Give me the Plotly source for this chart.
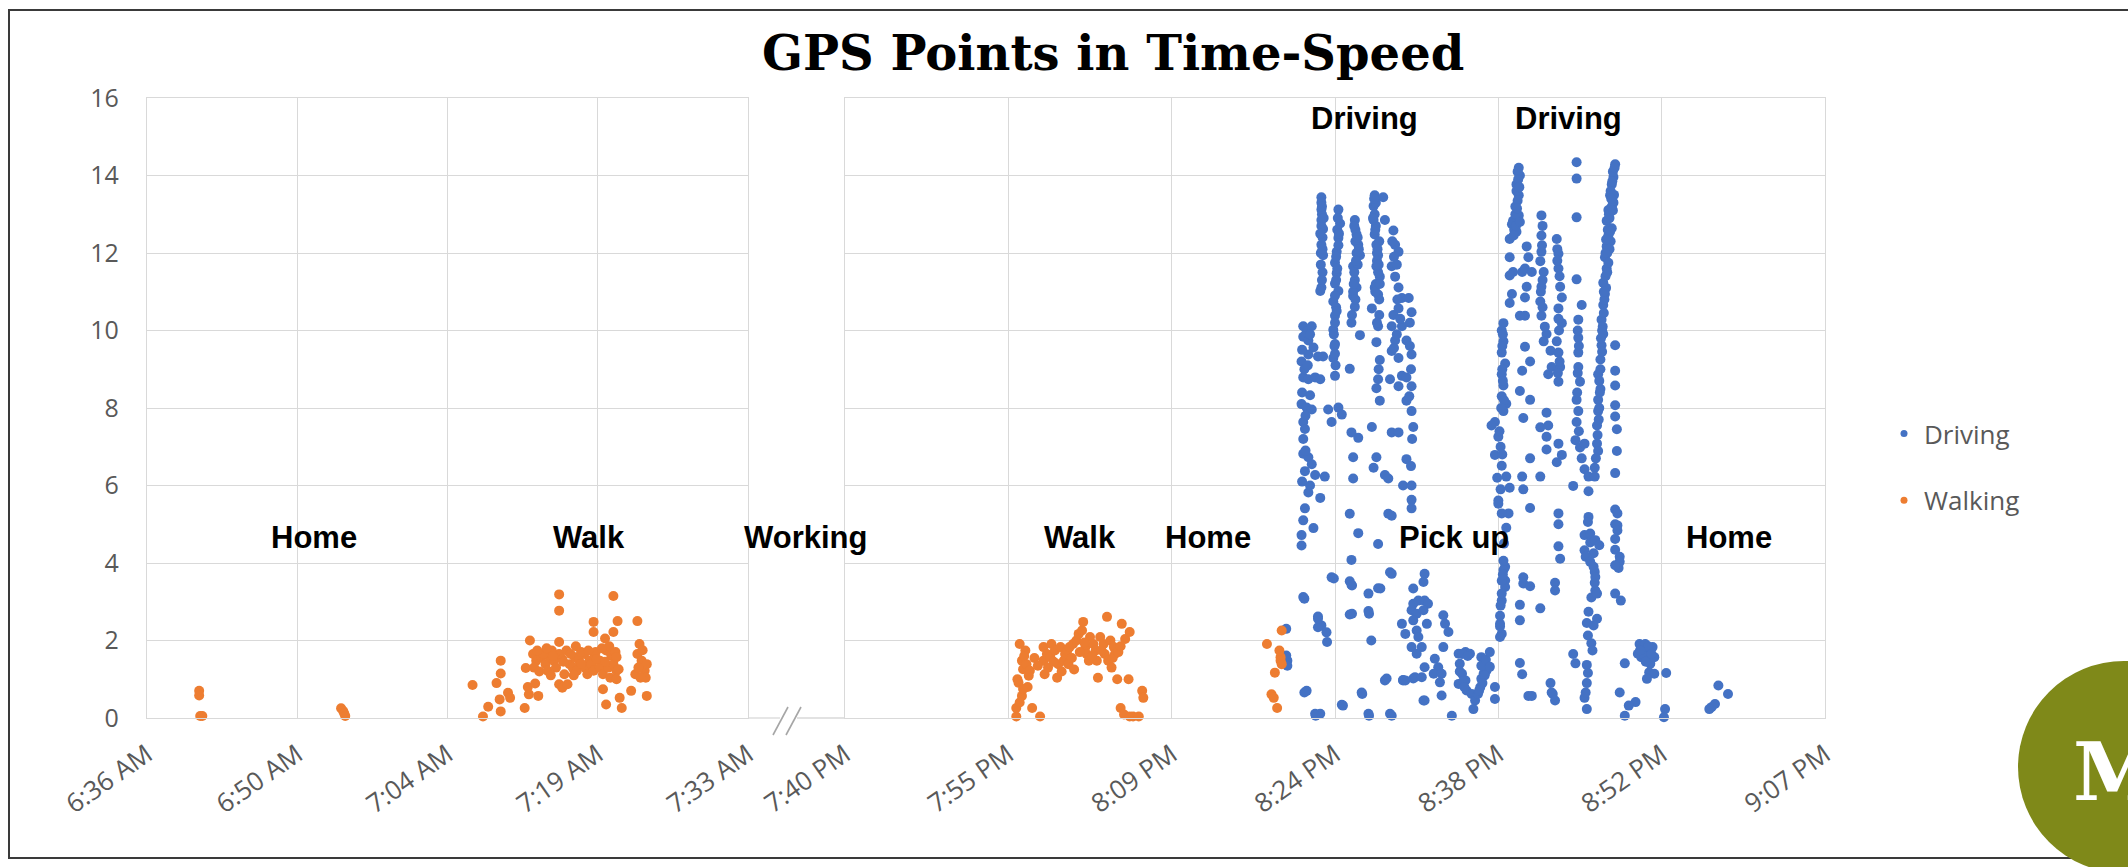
import plotly.graph_objects as go

W, H = 2128, 867

# ---------------- data: (minutes after midnight, speed) ----------------
walk_home_am = [(401.0, 0.70), (401.0, 0.58), (401.1, 0.05), (401.3, 0.05),
                (414.6, 0.25), (414.8, 0.18), (414.9, 0.12), (415.0, 0.05)]

walk_to_work = [
    (427.2, 0.85), (428.2, 0.04), (428.7, 0.29), (429.5, 0.90), (429.9, 1.48), (429.9, 1.15), (429.8, 0.48),
    (429.9, 0.17), (430.6, 0.65), (430.8, 0.52), (432.2, 0.26), (432.3, 1.29), (432.7, 2.00), (432.5, 0.80),
    (432.6, 0.61), (433.2, 0.89), (433.5, 0.57), (433.0, 1.65), (433.3, 1.48), (433.8, 1.57), (434.2, 1.39),
    (434.6, 1.57), (435.0, 1.48), (435.5, 1.65), (435.8, 1.52), (436.2, 1.74), (436.5, 1.39), (437.0, 1.57),
    (437.4, 1.48), (437.9, 1.65), (438.4, 1.48), (438.9, 1.61), (439.4, 1.48), (440.0, 1.74), (440.5, 1.61),
    (440.9, 1.70), (433.1, 1.30), (433.6, 1.20), (434.0, 1.65), (434.4, 1.22), (434.8, 1.74), (435.2, 1.30),
    (435.5, 1.96), (435.5, 0.87), (435.8, 0.78), (436.3, 0.87), (436.0, 1.13), (436.8, 1.30), (437.2, 1.22),
    (437.6, 1.70), (438.0, 1.30), (438.2, 1.13), (438.6, 1.39), (438.8, 1.22), (439.0, 1.70), (439.4, 1.30),
    (439.7, 1.13), (440.2, 1.30), (440.4, 1.04), (440.7, 1.39), (441.0, 1.22), (441.0, 1.57), (433.4, 1.74),
    (434.9, 1.60), (436.6, 1.65), (437.6, 1.40), (438.3, 1.74), (439.1, 1.52), (439.9, 1.45), (440.3, 1.85),
    (434.3, 1.80), (435.9, 1.45), (437.1, 1.85), (439.6, 1.80), (436.9, 1.10), (434.7, 1.10), (435.5, 3.19),
    (435.5, 2.77), (438.8, 2.48), (438.8, 2.22), (440.7, 3.15), (441.1, 2.50), (440.7, 2.22), (439.9, 2.05),
    (439.7, 0.74), (440.0, 0.35), (441.2, 1.26), (441.0, 1.00), (441.3, 0.52), (441.5, 0.26), (442.4, 0.70),
    (443.0, 2.50), (443.2, 1.91), (443.0, 1.65), (443.4, 1.48), (442.8, 1.13), (443.7, 1.22), (443.8, 1.04),
    (443.3, 1.04), (443.9, 1.39), (443.9, 0.57), (443.5, 1.75), (443.1, 1.30),
]

walk_from_work = [
    (1195.9, 0.04), (1195.9, 0.26), (1196.0, 1.00), (1196.1, 0.91), (1196.2, 1.91), (1196.4, 1.48),
    (1196.4, 0.57), (1196.5, 1.26), (1196.7, 1.74), (1196.8, 1.39), (1197.0, 1.09), (1197.1, 1.22),
    (1197.3, 0.26), (1198.0, 0.04), (1198.3, 1.83), (1198.3, 1.48), (1198.4, 1.13), (1198.6, 1.65),
    (1198.9, 1.57), (1199.0, 1.91), (1199.3, 1.74), (1199.5, 1.04), (1199.6, 1.39), (1199.8, 1.83),
    (1200.1, 1.48), (1200.2, 1.65), (1200.4, 1.74), (1200.5, 1.39), (1200.6, 1.83), (1200.9, 1.91),
    (1201.2, 2.00), (1201.4, 2.17), (1201.7, 2.26), (1201.8, 2.48), (1202.0, 1.83), (1202.1, 1.65),
    (1202.3, 1.48), (1202.4, 2.09), (1202.7, 1.91), (1202.9, 1.74), (1203.0, 1.48), (1203.1, 1.04),
    (1203.3, 2.09), (1203.6, 1.91), (1203.7, 1.65), (1203.9, 2.61), (1204.0, 1.48), (1204.2, 2.00),
    (1204.3, 1.30), (1204.5, 1.83), (1204.6, 1.65), (1204.8, 1.00), (1205.1, 0.26), (1205.2, 2.43),
    (1205.4, 0.09), (1205.5, 2.04), (1205.8, 1.00), (1205.9, 2.22), (1205.9, 0.04), (1206.2, 0.04),
    (1206.7, 0.04), (1207.0, 0.70), (1207.1, 0.52), (1197.5, 1.55), (1197.8, 1.35), (1198.7, 1.30),
    (1199.2, 1.45), (1200.8, 1.55), (1201.5, 1.70), (1201.9, 1.95), (1202.6, 1.60), (1203.4, 1.75),
    (1204.4, 1.55), (1204.9, 1.70), (1205.1, 1.85), (1199.9, 1.20), (1201.0, 1.25), (1196.6, 1.60),
    (1196.9, 0.80), (1196.2, 0.40), (1196.5, 0.75),
]

walk_to_car = [(1218.0, 1.91), (1219.3, 2.26), (1219.2, 1.57), (1219.2, 1.48), (1219.1, 1.74),
               (1218.7, 1.17), (1218.4, 0.61), (1218.6, 0.52), (1218.9, 0.26), (1219.3, 1.39)]

drive_leg1 = [
    (1219.7, 2.30), (1219.8, 1.48), (1219.8, 1.35), (1219.7, 1.61),
    (1221.2, 10.11), (1221.5, 9.97), (1221.95, 10.11), (1221.2, 9.84), (1221.65, 9.74), (1222.1, 9.56),
    (1221.05, 9.20), (1221.65, 9.38), (1222.5, 9.33), (1222.95, 9.33), (1221.2, 8.79), (1221.65, 8.74),
    (1222.25, 8.79), (1222.7, 8.74), (1221.8, 8.33), (1221.05, 8.10), (1221.5, 8.01), (1221.95, 7.96),
    (1221.2, 7.64), (1221.35, 7.46), (1221.2, 6.82), (1221.65, 6.73), (1221.95, 6.55), (1221.35, 6.37),
    (1222.25, 6.27), (1221.8, 6.00), (1223.1, 6.23), (1222.7, 5.68), (1221.65, 5.82), (1221.35, 5.41),
    (1222.1, 4.90), (1221.05, 4.72), (1221.05, 4.45), (1221.2, 3.12), (1222.5, 2.62), (1222.8, 2.39),
    (1223.25, 2.21), (1221.5, 0.70), (1222.25, 0.11), (1222.7, 0.11), (1223.7, 3.63), (1225.3, 3.53),
    (1224.6, 0.34), (1221.3, 3.08), (1222.5, 2.34), (1222.5, 2.56), (1223.3, 1.96), (1221.3, 0.66),
    (1222.3, 0.06), (1224.7, 0.32), (1226.4, 0.62), (1227.0, 0.06), (1229.0, 0.06), (1228.4, 0.97),
    (1227.2, 2.00), (1225.5, 2.69), (1227.0, 2.69), (1223.9, 3.60), (1225.5, 3.42), (1228.0, 3.34),
    (1229.0, 3.72), (1221.1, 9.50), (1221.3, 9.00), (1221.1, 8.40), (1221.4, 7.80), (1221.2, 7.20),
    (1221.4, 6.90), (1221.1, 6.10), (1221.2, 5.10), (1221.6, 9.10), (1221.8, 9.90),
    (1222.8, 13.44), (1222.8, 13.12), (1222.8, 12.85), (1222.95, 12.62), (1222.8, 12.21), (1222.95, 11.94),
    (1222.8, 11.11), (1222.7, 11.02), (1222.8, 13.30), (1222.9, 12.40), (1222.75, 12.00), (1222.9, 11.50),
    (1222.85, 13.00), (1222.85, 13.20), (1222.8, 12.70), (1222.9, 12.10), (1222.75, 11.70), (1222.85, 11.30),
    (1223.0, 12.90), (1222.7, 12.50),
    (1224.3, 13.12), (1224.45, 12.76), (1224.3, 12.39), (1224.15, 12.03), (1224.0, 11.75), (1224.15, 11.48),
    (1224.0, 11.21), (1224.3, 11.02), (1223.85, 10.75), (1224.0, 10.38), (1223.85, 10.02), (1224.0, 9.65),
    (1223.85, 9.29), (1224.0, 8.83), (1223.4, 7.96), (1224.3, 8.01), (1224.6, 7.83), (1223.7, 7.64),
    (1224.2, 12.60), (1224.1, 11.90), (1224.3, 12.20), (1224.0, 10.90), (1224.1, 10.60), (1223.9, 9.90),
    (1224.0, 9.40), (1224.25, 12.90), (1224.35, 12.50), (1224.2, 11.60), (1224.1, 11.30), (1224.0, 10.20),
    (1223.95, 9.60), (1224.05, 9.10), (1224.15, 10.50),
    (1225.75, 12.85), (1225.9, 12.48), (1226.05, 12.21), (1226.2, 11.94), (1225.6, 11.66), (1225.75, 11.30),
    (1225.9, 11.11), (1225.6, 10.89), (1225.75, 10.61), (1225.45, 10.20), (1226.2, 9.88), (1225.3, 9.01),
    (1225.45, 7.37), (1226.05, 7.23), (1225.6, 6.73), (1225.6, 6.18), (1225.3, 5.27), (1226.05, 4.77),
    (1225.45, 4.08), (1225.45, 3.44), (1225.3, 2.67), (1226.95, 2.76), (1226.35, 0.66), (1226.95, 0.11),
    (1225.8, 12.60), (1225.9, 12.00), (1226.0, 11.70), (1225.7, 11.50), (1225.8, 12.30), (1225.6, 11.00),
    (1225.7, 12.70), (1226.1, 12.10), (1225.85, 11.80), (1225.65, 11.20), (1225.8, 10.80), (1226.0, 12.40),
    (1225.5, 10.40),
    (1227.5, 13.49), (1228.25, 13.44), (1227.4, 13.21), (1227.4, 12.85), (1227.5, 12.48), (1227.65, 12.21),
    (1227.8, 11.94), (1227.65, 11.66), (1227.95, 11.39), (1227.5, 11.11), (1227.8, 10.93), (1227.25, 10.57),
    (1227.8, 10.11), (1227.95, 9.24), (1227.8, 8.74), (1227.65, 8.51), (1227.95, 8.19), (1227.25, 7.51),
    (1227.65, 6.73), (1228.4, 6.27), (1228.7, 6.18), (1227.4, 6.46), (1228.7, 5.27), (1227.8, 4.49),
    (1227.5, 13.00), (1227.6, 12.70), (1227.7, 12.00), (1227.8, 11.50), (1227.6, 11.20), (1227.9, 12.30),
    (1227.6, 13.30), (1227.7, 11.80), (1227.9, 10.80), (1227.45, 13.40), (1227.55, 12.60), (1227.75, 12.10),
    (1227.85, 11.70), (1227.55, 11.00), (1227.9, 10.40), (1227.7, 10.20), (1227.35, 12.90), (1227.95, 11.20),
    (1227.65, 9.70), (1227.85, 9.00),
    (1228.4, 12.85), (1229.15, 12.58), (1229.3, 12.21), (1229.6, 12.03), (1229.0, 11.66), (1229.3, 11.39),
    (1229.6, 11.11), (1229.9, 10.84), (1230.5, 10.84), (1229.6, 10.57), (1230.75, 10.47), (1229.0, 10.11),
    (1229.9, 10.11), (1229.3, 9.74), (1230.3, 9.74), (1229.0, 9.47), (1229.6, 9.29), (1230.75, 9.38),
    (1228.85, 8.74), (1229.9, 8.83), (1230.3, 8.79), (1229.6, 8.56), (1230.75, 8.56), (1230.3, 8.19),
    (1230.75, 7.92), (1230.9, 7.51), (1229.0, 7.37), (1229.6, 7.37), (1230.3, 6.68), (1230.0, 6.00),
    (1230.75, 6.00), (1230.75, 5.63), (1230.75, 5.41), (1229.0, 5.22), (1228.85, 3.76), (1227.8, 3.35),
    (1226.95, 3.21), (1228.55, 1.02), (1230.0, 0.98), (1230.9, 1.02), (1228.85, 0.11),
    (1229.05, 12.30), (1229.2, 11.90), (1229.45, 11.70), (1229.5, 10.80), (1229.15, 10.40), (1229.75, 10.30),
    (1229.45, 9.90), (1229.2, 9.55), (1230.6, 10.20), (1230.7, 9.00), (1230.55, 8.30), (1230.8, 7.20),
    (1230.7, 6.50), (1230.6, 9.60),
]

pickup_stop = [
    (1230.9, 3.34), (1231.9, 3.72), (1231.8, 3.51), (1230.9, 2.95), (1231.35, 3.03), (1231.9, 3.03),
    (1232.2, 2.95), (1230.75, 2.78), (1231.2, 2.69), (1231.8, 2.78), (1230.9, 2.52), (1232.1, 2.43),
    (1229.9, 2.43), (1230.2, 2.17), (1231.2, 2.26), (1231.35, 2.09), (1230.75, 1.83), (1231.65, 1.83),
    (1231.2, 1.66), (1233.55, 2.65), (1233.7, 2.43), (1234.0, 2.22), (1233.55, 1.83), (1230.0, 0.97),
    (1231.05, 1.05), (1231.65, 1.05), (1231.9, 1.31), (1232.8, 1.53), (1233.1, 1.31), (1232.7, 1.14),
    (1233.4, 1.14), (1233.25, 0.92), (1231.8, 0.45), (1233.4, 0.58), (1234.3, 0.06), (1234.9, 1.66),
    (1235.5, 1.70), (1235.9, 1.66), (1235.0, 1.40), (1235.2, 1.14), (1234.9, 0.88), (1235.5, 0.97),
    (1235.6, 0.71), (1236.05, 0.62), (1236.35, 0.45), (1236.2, 0.23), (1236.6, 0.62), (1236.9, 1.57),
    (1237.2, 1.40), (1237.1, 1.14), (1237.35, 1.22), (1236.9, 1.01), (1236.8, 0.79), (1238.1, 0.49),
    (1235.2, 1.65), (1235.7, 1.60), (1235.0, 1.20), (1235.3, 0.95), (1235.4, 0.80), (1236.9, 1.35),
    (1237.2, 1.10), (1237.0, 0.90), (1236.7, 0.70), (1237.3, 1.50), (1230.2, 0.97), (1231.9, 0.45),
]

drive_leg2 = [
    (1238.4, 5.53), (1239.3, 5.28), (1239.0, 3.90), (1239.0, 3.55), (1239.0, 3.38), (1238.7, 3.03),
    (1238.55, 2.43), (1238.7, 2.17), (1238.55, 2.09), (1240.6, 3.47), (1240.3, 2.52),
    (1240.2, 14.20), (1240.3, 14.00), (1240.0, 13.77), (1240.2, 13.49), (1239.9, 13.20), (1240.2, 12.97),
    (1239.6, 12.74), (1240.0, 12.55), (1239.4, 12.36), (1239.7, 12.83), (1240.1, 14.10), (1240.0, 13.60),
    (1240.1, 13.35), (1239.9, 13.00), (1239.8, 12.60), (1239.4, 11.89), (1239.7, 11.51), (1239.4, 11.42),
    (1240.5, 11.51), (1239.6, 10.94), (1239.4, 10.71), (1240.75, 10.85), (1240.75, 10.38), (1240.3, 10.38),
    (1240.15, 13.90), (1240.25, 13.70), (1240.05, 13.15), (1239.75, 12.45), (1239.95, 12.70), (1240.3, 12.80),
    (1238.85, 10.19), (1238.7, 10.00), (1238.85, 9.72), (1238.7, 9.43), (1239.0, 9.15), (1238.7, 8.87),
    (1238.85, 8.58), (1238.7, 8.30), (1239.1, 8.11), (1238.85, 7.92), (1238.1, 7.64), (1238.4, 7.26),
    (1238.1, 6.79), (1238.7, 6.51), (1239.1, 6.23), (1239.4, 5.94), (1238.4, 5.61), (1238.7, 5.28),
    (1239.1, 4.91), (1238.85, 4.06), (1238.85, 3.82), (1238.7, 3.54), (1238.7, 3.21), (1238.55, 2.64),
    (1238.55, 2.36), (1238.8, 9.90), (1238.75, 9.00), (1238.9, 8.20), (1238.6, 7.00), (1238.3, 6.20),
    (1238.75, 9.60), (1238.8, 8.70), (1238.65, 8.00), (1238.5, 7.40), (1238.75, 6.80), (1238.6, 5.90),
    (1238.9, 4.50), (1238.8, 3.70), (1238.6, 2.90),
    (1237.8, 7.55), (1237.65, 1.70), (1237.65, 1.32), (1238.1, 0.80),
    (1240.9, 12.17), (1241.05, 11.89), (1240.75, 11.60), (1241.35, 11.51), (1240.9, 11.13), (1240.75, 9.58),
    (1241.2, 9.20), (1240.5, 8.96), (1240.3, 8.44), (1241.2, 8.21), (1240.6, 7.74), (1242.1, 7.50),
    (1241.2, 6.70), (1242.1, 6.23), (1240.5, 6.23), (1240.6, 5.90), (1241.2, 5.42), (1240.6, 3.63),
    (1241.2, 3.40), (1240.3, 2.92), (1242.1, 2.83), (1240.3, 1.42), (1240.5, 1.13), (1241.05, 0.57),
    (1241.35, 0.57),
    (1242.2, 12.97), (1242.2, 12.45), (1242.2, 12.03), (1242.1, 11.79), (1242.4, 11.51), (1242.2, 11.13),
    (1242.1, 10.75), (1242.2, 10.38), (1242.65, 9.91), (1242.4, 9.72), (1243.0, 9.48), (1242.8, 8.87),
    (1243.1, 9.06), (1243.55, 12.36), (1243.7, 11.98), (1243.7, 11.60), (1243.85, 11.13), (1244.0, 10.85),
    (1243.7, 10.57), (1244.0, 10.19), (1243.55, 9.72), (1243.7, 9.43), (1243.85, 9.06), (1243.7, 8.68),
    (1242.65, 7.88), (1242.8, 7.55), (1242.65, 7.26), (1242.65, 6.93), (1243.7, 7.08), (1244.0, 6.79),
    (1243.55, 6.60), (1243.7, 5.28), (1243.7, 5.00), (1243.7, 4.43), (1243.4, 3.49), (1243.0, 0.90),
    (1243.1, 0.66), (1242.3, 12.70), (1242.3, 11.30), (1243.6, 12.10), (1243.8, 11.40), (1243.7, 10.30),
    (1243.6, 11.80), (1243.75, 10.00), (1243.8, 9.20), (1243.65, 8.90), (1242.25, 12.20), (1242.15, 11.00),
    (1242.3, 10.60), (1242.5, 10.10),
    (1245.3, 14.34), (1245.3, 13.92), (1245.3, 12.92), (1245.3, 11.32), (1245.75, 10.66), (1245.45, 10.28),
    (1245.45, 9.81), (1245.45, 9.43), (1245.45, 9.06), (1245.6, 8.68), (1245.3, 8.21), (1245.45, 7.92),
    (1245.3, 7.64), (1245.2, 7.17), (1245.6, 6.98), (1246.0, 7.08), (1245.75, 6.70), (1246.0, 6.42),
    (1246.35, 6.23), (1245.0, 5.99), (1246.35, 5.85), (1246.35, 5.19), (1246.0, 4.72), (1246.5, 4.53),
    (1246.8, 4.25), (1246.9, 3.77), (1246.9, 3.49), (1246.6, 3.11), (1246.35, 2.74), (1246.2, 2.45),
    (1246.6, 1.93), (1245.0, 1.65), (1246.2, 1.37), (1246.2, 0.90), (1246.0, 0.52),
    (1245.4, 10.00), (1245.5, 9.60), (1245.4, 8.90), (1245.35, 8.40), (1245.5, 7.40),
    (1248.7, 14.29), (1248.55, 13.96), (1248.4, 13.77), (1248.25, 13.49), (1248.55, 13.30), (1248.1, 13.11),
    (1247.95, 12.83), (1248.4, 12.64), (1248.1, 12.45), (1247.95, 12.17), (1247.8, 11.89), (1247.95, 11.60),
    (1247.65, 11.23), (1247.8, 10.94), (1247.65, 10.66), (1247.5, 10.28), (1247.65, 9.91), (1247.5, 9.62),
    (1247.4, 9.25), (1247.2, 8.87), (1247.4, 8.49), (1247.2, 8.21), (1247.2, 7.92), (1247.1, 7.55),
    (1247.1, 7.08), (1247.2, 6.89), (1246.9, 6.46), (1246.9, 6.23), (1248.5, 14.10), (1248.3, 13.60),
    (1248.4, 13.20), (1248.2, 12.90), (1248.3, 12.30), (1248.0, 12.00), (1248.1, 11.75), (1247.85, 11.40),
    (1247.75, 10.80), (1247.6, 10.10), (1247.55, 9.45), (1247.3, 8.70), (1247.3, 8.00), (1248.6, 13.50),
    (1248.2, 12.10), (1248.65, 14.20), (1248.45, 13.85), (1248.35, 13.40), (1248.15, 13.00), (1248.05, 12.60),
    (1248.25, 12.55), (1247.9, 12.35), (1247.85, 12.00), (1247.9, 11.10), (1247.7, 11.00), (1247.7, 10.45),
    (1247.55, 10.00), (1247.45, 9.80), (1247.4, 9.00), (1247.35, 8.40), (1247.25, 7.70), (1247.15, 7.30),
    (1247.0, 6.70), (1248.5, 13.10), (1248.0, 11.50),
    (1248.7, 9.62), (1248.7, 8.96), (1248.7, 8.58), (1248.7, 8.07), (1248.7, 7.78), (1248.85, 7.45),
    (1248.85, 6.89), (1248.7, 6.32), (1248.7, 5.38), (1248.7, 5.00), (1248.7, 4.62), (1248.7, 4.34),
    (1249.0, 3.87), (1248.7, 3.21),
]

arrival_home = [
    (1246.3, 5.06), (1246.5, 4.76), (1246.95, 4.59), (1247.3, 4.46), (1248.9, 5.28), (1248.9, 4.97),
    (1248.9, 4.84), (1243.85, 4.11), (1246.0, 4.33), (1246.1, 4.16), (1246.5, 4.03), (1246.8, 3.90),
    (1246.95, 3.64), (1249.1, 4.16), (1249.1, 4.03), (1248.7, 3.94), (1243.4, 3.29), (1246.95, 3.29),
    (1247.1, 3.21), (1249.2, 3.03), (1247.1, 2.56), (1246.8, 2.39), (1246.3, 2.13), (1246.7, 1.74),
    (1245.2, 1.41), (1246.3, 1.16), (1246.1, 0.66), (1246.2, 0.23), (1249.1, 0.66), (1243.2, 0.62),
    (1243.4, 0.45), (1250.85, 1.91), (1251.2, 1.83), (1251.5, 1.74), (1251.7, 1.57), (1251.0, 1.57),
    (1251.8, 1.40), (1250.7, 1.66), (1251.35, 1.91), (1252.0, 1.83), (1252.15, 1.57), (1249.55, 1.41),
    (1251.7, 1.18), (1252.15, 1.14), (1251.5, 1.01), (1253.2, 1.16), (1250.5, 0.41), (1249.9, 0.32),
    (1249.55, 0.06), (1253.1, 0.23), (1253.0, 0.02), (1251.1, 1.70), (1251.3, 1.60), (1251.6, 1.85),
    (1251.4, 1.45), (1251.9, 1.65), (1250.9, 1.75), (1257.2, 0.28), (1257.5, 0.36), (1257.8, 0.84),
    (1258.65, 0.62), (1257.0, 0.23),
]

am_ticks = [396.0, 410.4, 424.8, 439.2, 453.6]
am_labels = ["6:36 AM", "6:50 AM", "7:04 AM", "7:19 AM", "7:33 AM"]
pm_ticks = [1180.8, 1195.2, 1209.6, 1224.0, 1238.4, 1252.8, 1267.2]
pm_labels = ["7:40 PM", "7:55 PM", "8:09 PM", "8:24 PM", "8:38 PM", "8:52 PM", "9:07 PM"]
speed_ticks = [0, 2, 4, 6, 8, 10, 12, 14, 16]

DRIVE_COLOR = "#4472C4"
WALK_COLOR = "#ED7D31"
GRID = "#D9D9D9"
LABEL = "#595959"


def cols(points):
    return [p[0] for p in points], [p[1] for p in points]


def px(x):
    return x / W


def py(y):
    return 1 - y / H


walk_am_t, walk_am_v = cols(walk_home_am + walk_to_work)
walk_pm_t, walk_pm_v = cols(walk_from_work + walk_to_car)
drive_t, drive_v = cols(drive_leg1 + pickup_stop + drive_leg2 + arrival_home)

fig = go.Figure()
marker_kw = dict(mode="markers", cliponaxis=False, hoverinfo="x+y")
fig.add_trace(go.Scatter(x=drive_t, y=drive_v, xaxis="x2", yaxis="y2", showlegend=False,
                         marker=dict(color=DRIVE_COLOR, size=10), **marker_kw))
fig.add_trace(go.Scatter(x=walk_am_t, y=walk_am_v, xaxis="x", yaxis="y", showlegend=False,
                         marker=dict(color=WALK_COLOR, size=10), **marker_kw))
fig.add_trace(go.Scatter(x=walk_pm_t, y=walk_pm_v, xaxis="x2", yaxis="y2", showlegend=False,
                         marker=dict(color=WALK_COLOR, size=10), **marker_kw))
# legend entries
fig.add_trace(go.Scatter(x=[None], y=[None], name="Driving", mode="markers", legendgroup="d",
                         marker=dict(color=DRIVE_COLOR, size=7), xaxis="x2", yaxis="y2"))
fig.add_trace(go.Scatter(x=[None], y=[None], name="Walking", mode="markers", legendgroup="w",
                         marker=dict(color=WALK_COLOR, size=7), xaxis="x2", yaxis="y2"))

ydom = [py(718), py(98)]
axis_common = dict(showgrid=True, gridcolor=GRID, gridwidth=1.3, showline=True, linecolor=GRID,
                   linewidth=1.3, mirror=True, zeroline=False, ticks="")
xfont = dict(family="Open Sans", size=26, color=LABEL)
yfont = dict(family="Open Sans", size=25, color=LABEL)

fig.update_layout(
    width=W, height=H,
    margin=dict(l=0, r=0, t=0, b=0, autoexpand=False),
    paper_bgcolor="white", plot_bgcolor="white",
    xaxis=dict(domain=[px(147), px(748)], range=[am_ticks[0], am_ticks[-1]], anchor="y",
               tickmode="array", tickvals=am_ticks, ticktext=am_labels, tickangle=-35,
               ticklabelstandoff=10, tickfont=xfont, **axis_common),
    yaxis=dict(domain=ydom, range=[0, 16], anchor="x", tickmode="array", tickvals=speed_ticks,
               ticklabelstandoff=22, tickfont=yfont, **axis_common),
    xaxis2=dict(domain=[px(845), px(1825)], range=[pm_ticks[0], pm_ticks[-1]], anchor="y2",
                tickmode="array", tickvals=pm_ticks, ticktext=pm_labels, tickangle=-35,
                ticklabelstandoff=10, tickfont=xfont, **axis_common),
    yaxis2=dict(domain=ydom, range=[0, 16], anchor="x2", tickmode="array", tickvals=speed_ticks,
                showticklabels=False, **axis_common),
    showlegend=True,
    legend=dict(x=px(1884), y=py(410), xanchor="left", yanchor="top",
                font=dict(family="Open Sans", size=26, color=LABEL),
                traceorder="grouped", tracegroupgap=30, bgcolor="rgba(0,0,0,0)",
                itemclick=False),
)

annotations = [
    dict(text="<b>GPS Points in Time-Speed</b>", x=px(1113), y=py(53),
         font=dict(family="DejaVu Serif", size=48, color="black")),
]
label_font = dict(family="Liberation Sans", size=31, color="black")
for text, x, y in [("Home", 314, 537), ("Walk", 589, 537), ("Working", 805, 537),
                   ("Walk", 1080, 537), ("Home", 1208, 537), ("Pick up", 1454, 537),
                   ("Home", 1729, 537), ("Driving", 1364, 119), ("Driving", 1568, 119)]:
    annotations.append(dict(text=f"<b>{text}</b>", x=px(x), y=py(y), font=label_font))
# badge letter, partly running off the right edge of the slide
annotations.append(dict(text="<b>M</b>", x=px(2071), y=py(772), xanchor="left",
                        font=dict(family="DejaVu Serif", size=80, color="white")))
for a in annotations:
    a.setdefault("xanchor", "center")
    a.update(xref="paper", yref="paper", yanchor="middle", showarrow=False)
fig.update_layout(annotations=annotations)

shapes = [
    # slide frame
    dict(type="rect", x0=px(9), y0=py(10), x1=px(2140), y1=py(858),
         line=dict(color="#3A3A3A", width=2), fillcolor="rgba(0,0,0,0)"),
    # axis baseline across the time break
    dict(type="line", x0=px(748), y0=py(718), x1=px(780), y1=py(718), line=dict(color=GRID, width=1.3)),
    dict(type="line", x0=px(797), y0=py(718), x1=px(845), y1=py(718), line=dict(color=GRID, width=1.3)),
    # break marks
    dict(type="line", x0=px(773), y0=py(735), x1=px(788), y1=py(707), line=dict(color="#A6A6A6", width=1.6)),
    dict(type="line", x0=px(786), y0=py(735), x1=px(801), y1=py(707), line=dict(color="#A6A6A6", width=1.6)),
    # badge
    dict(type="circle", x0=px(2018), y0=py(661), x1=px(2230), y1=py(873),
         fillcolor="#7F8919", line=dict(width=0)),
]
for s in shapes:
    s.update(xref="paper", yref="paper")
fig.update_layout(shapes=shapes)

fig.write_html("out.html")
